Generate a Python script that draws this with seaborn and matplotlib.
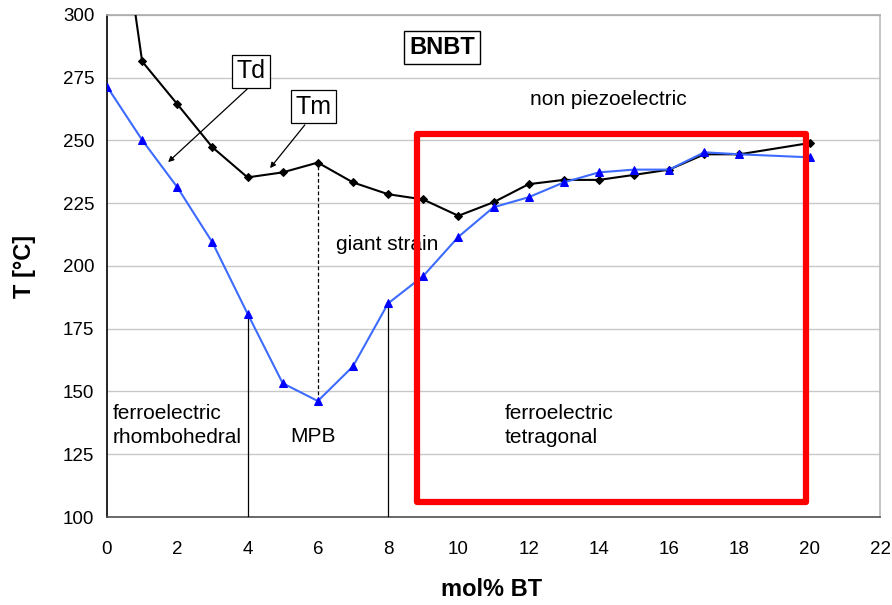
import matplotlib
matplotlib.use("Agg")
import matplotlib.pyplot as plt
import seaborn as sns
import pandas as pd
from matplotlib.patches import Rectangle

# data
x_tm = [0, 1, 2, 3, 4, 5, 6, 7, 8, 9, 10, 11, 12, 13, 14, 15, 16, 17, 18, 20]
tm_vals = [380, 281.5, 264.5, 247.3, 235.3, 237.3, 241.2, 233.3, 228.6, 226.5, 220.0, 225.4, 232.6, 234.3, 234.3, 236.3, 238.4, 244.5, 244.5, 249.0]
x_td = [0, 1, 2, 3, 4, 5, 6, 7, 8, 9, 10, 11, 12, 13, 14, 15, 16, 17, 18, 20]
td_vals = [271.5, 250.2, 231.4, 209.4, 181.0, 153.3, 146.2, 160.0, 185.1, 196.0, 211.6, 223.4, 227.4, 233.3, 237.3, 238.4, 238.4, 245.3, 244.5, 243.3]
x_ticks = [0, 2, 4, 6, 8, 10, 12, 14, 16, 18, 20, 22]
y_ticks = [100, 125, 150, 175, 200, 225, 250, 275, 300]

sns.set_theme(style="white")
plt.rcParams['font.family'] = ['Liberation Sans', 'DejaVu Sans']
plt.rcParams['text.color'] = 'black'
plt.rcParams['axes.labelcolor'] = 'black'

fig = plt.figure(figsize=(8.92, 6.05), dpi=100)
ax = fig.add_axes([107/892, 1-517/605, (880-107)/892, (517-15)/605])

df_tm = pd.DataFrame({"x": x_tm, "T": tm_vals})
df_td = pd.DataFrame({"x": x_td, "T": td_vals})

sns.lineplot(data=df_tm, x="x", y="T", ax=ax, color="black", lw=1.5,
             marker="D", markersize=4, markeredgecolor="black", markerfacecolor="black", zorder=4)
sns.lineplot(data=df_td, x="x", y="T", ax=ax, color="#3d6bff", lw=1.5,
             marker="^", markersize=6, markeredgecolor="#0000ff", markerfacecolor="#0000ff", zorder=4)

ax.set_xlim(0, 22)
ax.set_ylim(100, 300)
ax.set_xticks(x_ticks)
ax.set_yticks(y_ticks)
ax.yaxis.grid(True, color="#c8c8c8", lw=1)
ax.xaxis.grid(False)

ax.spines["left"].set_color("black")
ax.spines["bottom"].set_color("#505050")
ax.spines["top"].set_color("#aaaaaa")
ax.spines["right"].set_color("#bbbbbb")
for s in ax.spines.values():
    s.set_linewidth(1.2)
ax.tick_params(axis="both", which="both", direction="out", length=5, width=1,
               labelsize=13.5, colors="black")
ax.tick_params(axis="y", pad=4)
ax.tick_params(axis="x", pad=12)

ax.set_xlabel("mol% BT", fontsize=17, fontweight="bold")
ax.set_ylabel("T [°C]", fontsize=17, fontweight="bold")
ax.xaxis.set_label_coords((492-107)/773, (517-590)/502)
ax.yaxis.set_label_coords((25-107)/773, 0.5)
ax.xaxis.label.set_va("center")
ax.yaxis.label.set_va("center")

# vertical markers
ax.plot([4, 4], [100, td_vals[4]], color="black", lw=0.9, zorder=3)
ax.plot([8, 8], [100, td_vals[8]], color="black", lw=0.9, zorder=3)
ax.plot([6, 6], [td_vals[6], tm_vals[6]], color="black", lw=0.9, ls=(0, (3, 2)), zorder=3)

# red rectangle
ax.add_patch(Rectangle((8.82, 106), 19.89-8.82, 252.6-106, fill=False,
                       edgecolor="#ff0000", lw=4.5, joinstyle="round", zorder=5))

# annotations
ax.text(9.53, 287, "BNBT", fontsize=17, fontweight="bold", ha="center", va="center",
        bbox=dict(boxstyle="square,pad=0.22", fc="white", ec="black", lw=1))
ax.text(14.26, 266.5, "non piezoelectric", fontsize=15, ha="center", va="center")
ax.text(7.97, 208.4, "giant strain", fontsize=15, ha="center", va="center", zorder=2)
ax.text(0.17, 136.5, "ferroelectric\nrhombohedral", fontsize=15, ha="left", va="center", linespacing=1.32)
ax.text(5.86, 132, "MPB", fontsize=15, ha="center", va="center")
ax.text(11.33, 136.5, "ferroelectric\ntetragonal", fontsize=15, ha="left", va="center", linespacing=1.32)

ax.annotate("", xy=(1.74, 241.4), xytext=(3.99, 270.5),
            arrowprops=dict(arrowstyle="-|>", color="black", lw=0.9, mutation_scale=8, shrinkA=0, shrinkB=0))
ax.text(4.11, 277.5, "Td", fontsize=18, ha="center", va="center",
        bbox=dict(boxstyle="square,pad=0.18", fc="white", ec="black", lw=0.9))
ax.annotate("", xy=(4.64, 239.0), xytext=(5.63, 256.2),
            arrowprops=dict(arrowstyle="-|>", color="black", lw=0.9, mutation_scale=8, shrinkA=0, shrinkB=0))
ax.text(5.89, 263.5, "Tm", fontsize=18, ha="center", va="center",
        bbox=dict(boxstyle="square,pad=0.18", fc="white", ec="black", lw=0.9))

fig.savefig("out.png", dpi=100)
